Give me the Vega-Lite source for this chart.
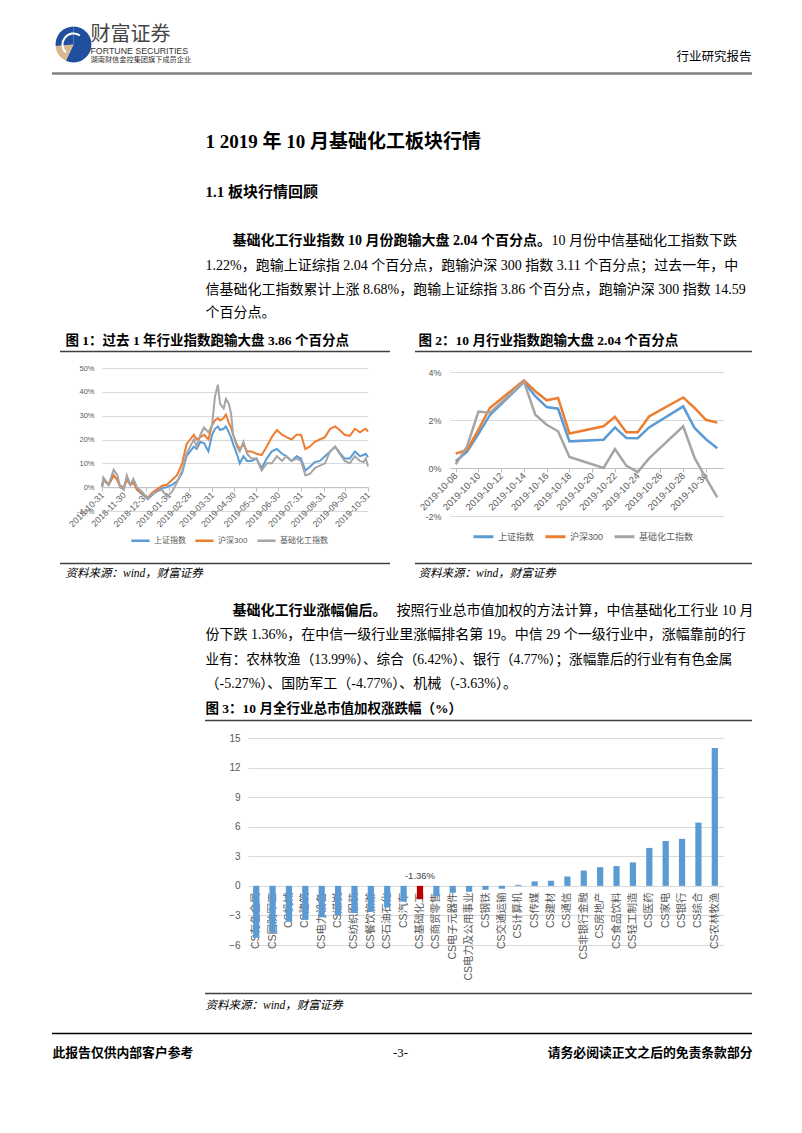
{
"$schema": "https://vega.github.io/schema/vega-lite/v6.json",
"background": "white",
"padding": 0,
"spacing": 0,
"bounds": "flush",
"resolve": {"scale": {"color": "independent"}, "legend": {"color": "independent"}},
"config": {"view": {"stroke": null}, "concat": {"spacing": 0}},
"datasets": {
"c1": [
{"d":"2018-10-31","上证指数":0,"沪深300":0,"基础化工指数":0},
{"d":"2018-11-02","上证指数":3,"沪深300":3.5,"基础化工指数":4},
{"d":"2018-11-09","上证指数":1,"沪深300":1,"基础化工指数":1},
{"d":"2018-11-16","上证指数":5,"沪深300":5,"基础化工指数":7.3},
{"d":"2018-11-21","上证指数":3,"沪深300":3,"基础化工指数":5},
{"d":"2018-11-25","上证指数":0.5,"沪深300":0,"基础化工指数":0},
{"d":"2018-11-30","上证指数":0,"沪深300":0,"基础化工指数":-1},
{"d":"2018-12-04","上证指数":3.5,"沪深300":3,"基础化工指数":5},
{"d":"2018-12-09","上证指数":1,"沪深300":1,"基础化工指数":1},
{"d":"2018-12-13","上证指数":2,"沪深300":2,"基础化工指数":3.5},
{"d":"2018-12-18","上证指数":-1,"沪深300":-1,"基础化工指数":0},
{"d":"2018-12-25","上证指数":-3,"沪深300":-2.5,"基础化工指数":-2},
{"d":"2019-01-02","上证指数":-5,"沪深300":-4.5,"基础化工指数":-5},
{"d":"2019-01-07","上证指数":-3.5,"沪深300":-2.5,"基础化工指数":-3},
{"d":"2019-01-14","上证指数":-1.5,"沪深300":-1,"基础化工指数":-2},
{"d":"2019-01-21","上证指数":-0.5,"沪深300":0.5,"基础化工指数":-1},
{"d":"2019-01-28","上证指数":0,"沪深300":1,"基础化工指数":-4},
{"d":"2019-02-04","上证指数":1,"沪深300":3,"基础化工指数":-2},
{"d":"2019-02-11","上证指数":2.5,"沪深300":5,"基础化工指数":2},
{"d":"2019-02-18","上证指数":6,"沪深300":10,"基础化工指数":7},
{"d":"2019-02-24","上证指数":13,"沪深300":18,"基础化工指数":14},
{"d":"2019-03-01","上证指数":15,"沪深300":20,"基础化工指数":17},
{"d":"2019-03-06","上证指数":17,"沪深300":22,"基础化工指数":20},
{"d":"2019-03-10","上证指数":16,"沪深300":20,"基础化工指数":17},
{"d":"2019-03-15","上证指数":19,"沪深300":21,"基础化工指数":22},
{"d":"2019-03-20","上证指数":18.5,"沪深300":22,"基础化工指数":25},
{"d":"2019-03-26","上证指数":15,"沪深300":20,"基础化工指数":23},
{"d":"2019-03-31","上证指数":22,"沪深300":26,"基础化工指数":26},
{"d":"2019-04-04","上证指数":24.5,"沪深300":28,"基础化工指数":38},
{"d":"2019-04-08","上证指数":25.5,"沪深300":29,"基础化工指数":43},
{"d":"2019-04-11","上证指数":24,"沪深300":28,"基础化工指数":35},
{"d":"2019-04-16","上证指数":24.5,"沪深300":29,"基础化工指数":33},
{"d":"2019-04-19","上证指数":25.5,"沪深300":30.5,"基础化工指数":37},
{"d":"2019-04-23","上证指数":23,"沪深300":27,"基础化工指数":35},
{"d":"2019-04-26","上证指数":21,"沪深300":25,"基础化工指数":31},
{"d":"2019-04-29","上证指数":18,"沪深300":22,"基础化工指数":22},
{"d":"2019-05-04","上证指数":14,"沪深300":18,"基础化工指数":17},
{"d":"2019-05-08","上证指数":10,"沪深300":16,"基础化工指数":15},
{"d":"2019-05-13","上证指数":13,"沪深300":18,"基础化工指数":19},
{"d":"2019-05-18","上证指数":11,"沪深300":15,"基础化工指数":14},
{"d":"2019-05-24","上证指数":11,"沪深300":15,"基础化工指数":12},
{"d":"2019-05-31","上证指数":12,"沪深300":14,"基础化工指数":12},
{"d":"2019-06-07","上证指数":8,"沪深300":13.5,"基础化工指数":7},
{"d":"2019-06-14","上证指数":12,"沪深300":17,"基础化工指数":10},
{"d":"2019-06-21","上证指数":15,"沪深300":21,"基础化工指数":10},
{"d":"2019-06-28","上证指数":16,"沪深300":24,"基础化工指数":13},
{"d":"2019-07-05","上证指数":14,"沪深300":22,"基础化工指数":11},
{"d":"2019-07-11","上证指数":13,"沪深300":21,"基础化工指数":13},
{"d":"2019-07-18","上证指数":11,"沪深300":20,"基础化工指数":11},
{"d":"2019-07-25","上证指数":13,"沪深300":22,"基础化工指数":12},
{"d":"2019-07-31","上证指数":12,"沪深300":22,"基础化工指数":11},
{"d":"2019-08-06","上证指数":7,"沪深300":16,"基础化工指数":5},
{"d":"2019-08-12","上证指数":8.5,"沪深300":17,"基础化工指数":5.5},
{"d":"2019-08-19","上证指数":10.5,"沪深300":19,"基础化工指数":8},
{"d":"2019-08-26","上证指数":11,"沪深300":20,"基础化工指数":9},
{"d":"2019-09-02","上证指数":13,"沪深300":21,"基础化工指数":10},
{"d":"2019-09-09","上证指数":15,"沪深300":24.5,"基础化工指数":15},
{"d":"2019-09-16","上证指数":17,"沪深300":25.5,"基础化工指数":17},
{"d":"2019-09-22","上证指数":14.5,"沪深300":24,"基础化工指数":14},
{"d":"2019-09-29","上证指数":12,"沪深300":22,"基础化工指数":11},
{"d":"2019-10-06","上证指数":12,"沪深300":21.5,"基础化工指数":10},
{"d":"2019-10-13","上证指数":15,"沪深300":24.5,"基础化工指数":13},
{"d":"2019-10-20","上证指数":13,"沪深300":23,"基础化工指数":11},
{"d":"2019-10-25","上证指数":13.5,"沪深300":24,"基础化工指数":10.5},
{"d":"2019-10-28","上证指数":14,"沪深300":24.5,"基础化工指数":12},
{"d":"2019-10-31","上证指数":12.54,"沪深300":23.27,"基础化工指数":8.68}
],
"c2": [
{"d":"2019-10-08","上证指数":0.28,"沪深300":0.6,"基础化工指数":0.15},
{"d":"2019-10-09","上证指数":0.68,"沪深300":0.75,"基础化工指数":0.9},
{"d":"2019-10-10","上证指数":1.42,"沪深300":1.6,"基础化工指数":2.35},
{"d":"2019-10-11","上证指数":2.2,"沪深300":2.5,"基础化工指数":2.3},
{"d":"2019-10-14","上证指数":3.58,"沪深300":3.65,"基础化工指数":3.6},
{"d":"2019-10-15","上证指数":2.99,"沪深300":3.2,"基础化工指数":2.22},
{"d":"2019-10-16","上证指数":2.54,"沪深300":2.82,"基础化工指数":1.8},
{"d":"2019-10-17","上证指数":2.47,"沪深300":2.92,"基础化工指数":1.53},
{"d":"2019-10-18","上证指数":1.11,"沪深300":1.44,"基础化工指数":0.46},
{"d":"2019-10-21","上证指数":1.18,"沪深300":1.74,"基础化工指数":0.0},
{"d":"2019-10-22","上证指数":1.69,"沪深300":2.13,"基础化工指数":0.79},
{"d":"2019-10-23","上证指数":1.25,"沪深300":1.49,"基础化工指数":0.1},
{"d":"2019-10-24","上证指数":1.24,"沪深300":1.49,"基础化工指数":-0.17},
{"d":"2019-10-25","上证指数":1.69,"沪深300":2.15,"基础化工指数":0.4},
{"d":"2019-10-28","上证指数":2.57,"沪深300":2.94,"基础化工指数":1.74},
{"d":"2019-10-29","上证指数":1.67,"沪深300":2.5,"基础化工指数":0.42},
{"d":"2019-10-30","上证指数":1.2,"沪深300":2.01,"基础化工指数":-0.42},
{"d":"2019-10-31","上证指数":0.82,"沪深300":1.89,"基础化工指数":-1.22}
],
"c3": [
{"n":"CS有色金属","v":-5.27},{"n":"CS国防军工","v":-4.77},{"n":"CS机械","v":-3.63},{"n":"CS建筑","v":-3.45},{"n":"CS电力设备","v":-3.2},{"n":"CS煤炭","v":-3.0},{"n":"CS纺织服装","v":-2.75},{"n":"CS餐饮旅游","v":-2.6},{"n":"CS石油石化","v":-2.2},{"n":"CS汽车","v":-1.6},{"n":"CS基础化工","v":-1.36,"lab":"-1.36%"},{"n":"CS商贸零售","v":-1.05},{"n":"CS电子元器件","v":-0.7},{"n":"CS电力及公用事业","v":-0.6},{"n":"CS钢铁","v":-0.4},{"n":"CS交通运输","v":-0.3},{"n":"CS计算机","v":0.1},{"n":"CS传媒","v":0.45},{"n":"CS建材","v":0.52},{"n":"CS通信","v":0.95},{"n":"CS非银行金融","v":1.55},{"n":"CS房地产","v":1.9},{"n":"CS食品饮料","v":2.0},{"n":"CS轻工制造","v":2.38},{"n":"CS医药","v":3.85},{"n":"CS家电","v":4.55},{"n":"CS银行","v":4.77},{"n":"CS综合","v":6.42},{"n":"CS农林牧渔","v":13.99}
]
},
"vconcat": [
{"width":1,"height":34,"data":{"values":[]},"mark":"point"},
{"hconcat":[
 {"width":90,"height":1,"data":{"values":[]},"mark":"point"},
 {"width":1,"height":1,"data":{"values":[{"t":"财富证券"}]},"mark":{"type":"text","align":"left","baseline":"middle","font":"Noto Sans CJK SC","fontSize":20,"color":"#454545"},"encoding":{"text":{"field":"t"}}}
],"spacing":0,"bounds":"flush"},
{"width":1,"height":10,"data":{"values":[]},"mark":"point"},
{"hconcat":[
 {"width":73,"height":1,"data":{"values":[]},"mark":"point"},
 {"width":1,"height":1,"layer":[
   {"data":{"values":[{"p":"a","w":205},{"p":"b","w":60},{"p":"c","w":95}]},"mark":{"type":"arc","outerRadius":18},"encoding":{"theta":{"field":"w","type":"quantitative"},"color":{"field":"p","type":"nominal","scale":{"domain":["a","b","c"],"range":["#1f4f9d","#d8b68e","#1f4f9d"]},"legend":null}}},
   {"data":{"values":[{"p":"swoosh"}]},"mark":{"type":"arc","innerRadius":10,"outerRadius":12,"theta":3.9,"theta2":6.9,"color":"#ffffff"},"encoding":{}}
 ]}
],"spacing":0,"bounds":"flush"},
{"width":1,"height":6,"data":{"values":[]},"mark":"point"},
{"hconcat":[
 {"width":90,"height":1,"data":{"values":[]},"mark":"point"},
 {"width":1,"height":1,"data":{"values":[{"t":"FORTUNE SECURITIES"}]},"mark":{"type":"text","align":"left","baseline":"middle","font":"Liberation Sans","fontSize":8.8,"color":"#333333"},"encoding":{"text":{"field":"t"}}}
],"spacing":0,"bounds":"flush"},
{"width":1,"height":6,"data":{"values":[]},"mark":"point"},
{"hconcat":[
 {"width":751,"height":1,"data":{"values":[]},"mark":"point"},
 {"width":1,"height":1,"data":{"values":[{"t":"行业研究报告"}]},"mark":{"type":"text","align":"right","baseline":"middle","font":"Liberation Serif, Noto Sans CJK SC","fontSize":12.5,"color":"#000000"},"encoding":{"text":{"field":"t"}}}
],"spacing":0,"bounds":"flush"},
{"width":1,"height":3,"data":{"values":[]},"mark":"point"},
{"hconcat":[
 {"width":90,"height":1,"data":{"values":[]},"mark":"point"},
 {"width":1,"height":1,"data":{"values":[{"t":"湖南财信金控集团旗下成员企业"}]},"mark":{"type":"text","align":"left","baseline":"middle","font":"Noto Sans CJK SC","fontSize":7.2,"color":"#333333"},"encoding":{"text":{"field":"t"}}}
],"spacing":0,"bounds":"flush"},
{"width":1,"height":14,"data":{"values":[]},"mark":"point"},
{"hconcat":[
 {"width":52,"height":1,"data":{"values":[]},"mark":"point"},
 {"width":700,"height":1,"data":{"values":[{"k":0}]},"mark":{"type":"rule","color":"#808080","strokeWidth":2.5},"encoding":{"y":{"field":"k","type":"quantitative","axis":null}}}
],"spacing":0,"bounds":"flush"},
{"width":1,"height":68,"data":{"values":[]},"mark":"point"},
{"hconcat":[
 {"width":205,"height":1,"data":{"values":[]},"mark":"point"},
 {"width":1,"height":1,"data":{"values":[{"t":"1 2019 年 10 月基础化工板块行情"}]},"mark":{"type":"text","align":"left","baseline":"middle","font":"Liberation Serif, Noto Sans CJK SC","fontSize":19,"fontWeight":"bold","color":"#000000"},"encoding":{"text":{"field":"t"}}}
],"spacing":0,"bounds":"flush"},
{"width":1,"height":50,"data":{"values":[]},"mark":"point"},
{"hconcat":[
 {"width":205,"height":1,"data":{"values":[]},"mark":"point"},
 {"width":1,"height":1,"data":{"values":[{"t":"1.1 板块行情回顾"}]},"mark":{"type":"text","align":"left","baseline":"middle","font":"Liberation Serif, Noto Sans CJK SC","fontSize":15,"fontWeight":"bold","color":"#000000"},"encoding":{"text":{"field":"t"}}}
],"spacing":0,"bounds":"flush"},
{"width":1,"height":49,"data":{"values":[]},"mark":"point"},
{"hconcat":[
 {"width":232,"height":1,"data":{"values":[]},"mark":"point"},
 {"width":1,"height":1,"data":{"values":[{"t":"基础化工行业指数 10 月份跑输大盘 2.04 个百分点。"}]},"mark":{"type":"text","align":"left","baseline":"middle","font":"Liberation Serif, Noto Sans CJK SC","fontSize":14,"fontWeight":"bold","color":"#000000"},"encoding":{"text":{"field":"t"}}},
 {"width":318,"height":1,"data":{"values":[]},"mark":"point"},
 {"width":1,"height":1,"data":{"values":[{"t":"10 月份中信基础化工指数下跌"}]},"mark":{"type":"text","align":"left","baseline":"middle","font":"Liberation Serif, Noto Sans CJK SC","fontSize":14,"color":"#000000"},"encoding":{"text":{"field":"t"}}}
],"spacing":0,"bounds":"flush"},
{"width":1,"height":25,"data":{"values":[]},"mark":"point"},
{"hconcat":[
 {"width":205,"height":1,"data":{"values":[]},"mark":"point"},
 {"width":1,"height":1,"data":{"values":[{"t":"1.22%，跑输上证综指 2.04 个百分点，跑输沪深 300 指数 3.11 个百分点；过去一年，中"}]},"mark":{"type":"text","align":"left","baseline":"middle","font":"Liberation Serif, Noto Sans CJK SC","fontSize":14,"color":"#000000"},"encoding":{"text":{"field":"t"}}}
],"spacing":0,"bounds":"flush"},
{"width":1,"height":24,"data":{"values":[]},"mark":"point"},
{"hconcat":[
 {"width":205,"height":1,"data":{"values":[]},"mark":"point"},
 {"width":1,"height":1,"data":{"values":[{"t":"信基础化工指数累计上涨 8.68%，跑输上证综指 3.86 个百分点，跑输沪深 300 指数 14.59"}]},"mark":{"type":"text","align":"left","baseline":"middle","font":"Liberation Serif, Noto Sans CJK SC","fontSize":14,"color":"#000000"},"encoding":{"text":{"field":"t"}}}
],"spacing":0,"bounds":"flush"},
{"width":1,"height":23,"data":{"values":[]},"mark":"point"},
{"hconcat":[
 {"width":205,"height":1,"data":{"values":[]},"mark":"point"},
 {"width":1,"height":1,"data":{"values":[{"t":"个百分点。"}]},"mark":{"type":"text","align":"left","baseline":"middle","font":"Liberation Serif, Noto Sans CJK SC","fontSize":14,"color":"#000000"},"encoding":{"text":{"field":"t"}}}
],"spacing":0,"bounds":"flush"},
{"width":1,"height":28,"data":{"values":[]},"mark":"point"},
{"hconcat":[
 {"width":65,"height":1,"data":{"values":[]},"mark":"point"},
 {"width":1,"height":1,"data":{"values":[{"t":"图 1：过去 1 年行业指数跑输大盘 3.86 个百分点"}]},"mark":{"type":"text","align":"left","baseline":"middle","font":"Liberation Serif, Noto Sans CJK SC","fontSize":13.5,"fontWeight":"bold","color":"#000000"},"encoding":{"text":{"field":"t"}}},
 {"width":352,"height":1,"data":{"values":[]},"mark":"point"},
 {"width":1,"height":1,"data":{"values":[{"t":"图 2：10 月行业指数跑输大盘 2.04 个百分点"}]},"mark":{"type":"text","align":"left","baseline":"middle","font":"Liberation Serif, Noto Sans CJK SC","fontSize":13.5,"fontWeight":"bold","color":"#000000"},"encoding":{"text":{"field":"t"}}}
],"spacing":0,"bounds":"flush"},
{"width":1,"height":11,"data":{"values":[]},"mark":"point"},
{"hconcat":[
 {"width":60,"height":1,"data":{"values":[]},"mark":"point"},
 {"width":330,"height":1,"data":{"values":[{"k":0}]},"mark":{"type":"rule","color":"#404040","strokeWidth":1.5},"encoding":{"y":{"field":"k","type":"quantitative","axis":null}}},
 {"width":25,"height":1,"data":{"values":[]},"mark":"point"},
 {"width":337,"height":1,"data":{"values":[{"k":0}]},"mark":{"type":"rule","color":"#404040","strokeWidth":1.5},"encoding":{"y":{"field":"k","type":"quantitative","axis":null}}}
],"spacing":0,"bounds":"flush"},
{"width":1,"height":17,"data":{"values":[]},"mark":"point"},
{"hconcat":[
 {"width":102,"height":1,"data":{"values":[]},"mark":"point"},
 {"width":266,"height":143,"data":{"name":"c1"},
  "transform":[{"fold":["上证指数","沪深300","基础化工指数"],"as":["s","v"]}],
  "mark":{"type":"line","strokeWidth":2},
  "encoding":{
   "x":{"field":"d","type":"temporal","scale":{"type":"utc","domain":[{"year":2018,"month":10,"date":31,"utc":true},{"year":2019,"month":10,"date":31,"utc":true}]},
    "axis":{"title":null,"values":[{"year":2018,"month":10,"date":31,"utc":true},{"year":2018,"month":11,"date":30,"utc":true},{"year":2018,"month":12,"date":31,"utc":true},{"year":2019,"month":1,"date":31,"utc":true},{"year":2019,"month":2,"date":28,"utc":true},{"year":2019,"month":3,"date":31,"utc":true},{"year":2019,"month":4,"date":30,"utc":true},{"year":2019,"month":5,"date":31,"utc":true},{"year":2019,"month":6,"date":30,"utc":true},{"year":2019,"month":7,"date":31,"utc":true},{"year":2019,"month":8,"date":31,"utc":true},{"year":2019,"month":9,"date":30,"utc":true},{"year":2019,"month":10,"date":31,"utc":true}],
    "format":"%Y-%m-%d","labelAngle":-45,"labelAlign":"right","labelBaseline":"middle","labelFontSize":8.8,"labelColor":"#595959","labelFont":"Liberation Sans, Noto Sans CJK SC","offset":-23.8,"grid":false,"domainColor":"#bfbfbf","tickColor":"#bfbfbf","tickSize":4,"labelPadding":2,"labelOverlap":false,"labelFlush":false}},
   "y":{"field":"v","type":"quantitative","scale":{"domain":[-10,50],"nice":false,"zero":false},
    "axis":{"title":null,"values":[-10,0,10,20,30,40,50],"labelExpr":"datum.value + '%'","grid":true,"gridColor":"#d9d9d9","domain":false,"ticks":false,"labelPadding":8,"labelFontSize":7.5,"labelColor":"#595959","labelFont":"Liberation Sans, Noto Sans CJK SC"}},
   "color":{"field":"s","type":"nominal","scale":{"domain":["上证指数","沪深300","基础化工指数"],"range":["#5b9bd5","#ed7d31","#a5a5a5"]},
    "legend":{"orient":"none","legendX":28,"legendY":162,"direction":"horizontal","title":null,"symbolType":"stroke","symbolStrokeWidth":2.5,"symbolSize":330,"labelFontSize":8,"labelColor":"#595959","labelFont":"Liberation Sans, Noto Sans CJK SC","columnPadding":4,"labelOffset":3,"padding":0}}
  }
 },
 {"width":82,"height":1,"data":{"values":[]},"mark":"point"},
 {"width":273,"height":148,"data":{"name":"c2"},
  "transform":[{"fold":["上证指数","沪深300","基础化工指数"],"as":["s","v"]}],
  "mark":{"type":"line","strokeWidth":2.5},
  "encoding":{
   "x":{"field":"d","type":"temporal","scale":{"type":"utc","domain":[{"year":2019,"month":10,"date":7,"hours":12,"utc":true},{"year":2019,"month":10,"date":31,"hours":12,"utc":true}]},
    "axis":{"title":null,"values":[{"year":2019,"month":10,"date":8,"utc":true},{"year":2019,"month":10,"date":10,"utc":true},{"year":2019,"month":10,"date":12,"utc":true},{"year":2019,"month":10,"date":14,"utc":true},{"year":2019,"month":10,"date":16,"utc":true},{"year":2019,"month":10,"date":18,"utc":true},{"year":2019,"month":10,"date":20,"utc":true},{"year":2019,"month":10,"date":22,"utc":true},{"year":2019,"month":10,"date":24,"utc":true},{"year":2019,"month":10,"date":26,"utc":true},{"year":2019,"month":10,"date":28,"utc":true},{"year":2019,"month":10,"date":30,"utc":true}],
    "format":"%Y-%m-%d","labelAngle":-45,"labelAlign":"right","labelBaseline":"middle","labelFontSize":9.5,"labelColor":"#595959","labelFont":"Liberation Sans, Noto Sans CJK SC","offset":-48,"grid":false,"domainColor":"#bfbfbf","tickColor":"#bfbfbf","tickSize":4,"labelPadding":2,"labelOverlap":false,"labelFlush":false}},
   "y":{"field":"v","type":"quantitative","scale":{"domain":[-2,4.1667],"nice":false,"zero":false},
    "axis":{"title":null,"values":[-2,0,2,4],"labelExpr":"datum.value + '%'","grid":true,"gridColor":"#d9d9d9","domain":false,"ticks":false,"labelPadding":9,"labelFontSize":9,"labelColor":"#595959","labelFont":"Liberation Sans, Noto Sans CJK SC"}},
   "color":{"field":"s","type":"nominal","scale":{"domain":["上证指数","沪深300","基础化工指数"],"range":["#5b9bd5","#ed7d31","#a5a5a5"]},
    "legend":{"orient":"none","legendX":22,"legendY":157,"direction":"horizontal","title":null,"symbolType":"stroke","symbolStrokeWidth":3,"symbolSize":400,"labelFontSize":9,"labelColor":"#595959","labelFont":"Liberation Sans, Noto Sans CJK SC","columnPadding":4,"labelOffset":3,"padding":0}}
  }
 }
],"spacing":0,"bounds":"flush","resolve":{"scale":{"color":"independent"},"legend":{"color":"independent"}}},
{"width":1,"height":195,"data":{"values":[]},"mark":"point"},
{"hconcat":[
 {"width":60,"height":1,"data":{"values":[]},"mark":"point"},
 {"width":330,"height":1,"data":{"values":[{"k":0}]},"mark":{"type":"rule","color":"#404040","strokeWidth":1.5},"encoding":{"y":{"field":"k","type":"quantitative","axis":null}}},
 {"width":25,"height":1,"data":{"values":[]},"mark":"point"},
 {"width":337,"height":1,"data":{"values":[{"k":0}]},"mark":{"type":"rule","color":"#404040","strokeWidth":1.5},"encoding":{"y":{"field":"k","type":"quantitative","axis":null}}}
],"spacing":0,"bounds":"flush"},
{"width":1,"height":10,"data":{"values":[]},"mark":"point"},
{"hconcat":[
 {"width":65,"height":1,"data":{"values":[]},"mark":"point"},
 {"width":1,"height":1,"data":{"values":[{"t":"资料来源：wind，财富证券"}]},"mark":{"type":"text","align":"left","baseline":"middle","font":"Liberation Serif, Noto Sans CJK SC","fontSize":11.5,"fontStyle":"italic","color":"#000000"},"encoding":{"text":{"field":"t"}}},
 {"width":352,"height":1,"data":{"values":[]},"mark":"point"},
 {"width":1,"height":1,"data":{"values":[{"t":"资料来源：wind，财富证券"}]},"mark":{"type":"text","align":"left","baseline":"middle","font":"Liberation Serif, Noto Sans CJK SC","fontSize":11.5,"fontStyle":"italic","color":"#000000"},"encoding":{"text":{"field":"t"}}}
],"spacing":0,"bounds":"flush"},
{"width":1,"height":37,"data":{"values":[]},"mark":"point"},
{"hconcat":[
 {"width":232,"height":1,"data":{"values":[]},"mark":"point"},
 {"width":1,"height":1,"data":{"values":[{"t":"基础化工行业涨幅偏后。"}]},"mark":{"type":"text","align":"left","baseline":"middle","font":"Liberation Serif, Noto Sans CJK SC","fontSize":14,"fontWeight":"bold","color":"#000000"},"encoding":{"text":{"field":"t"}}},
 {"width":163,"height":1,"data":{"values":[]},"mark":"point"},
 {"width":1,"height":1,"data":{"values":[{"t":"按照行业总市值加权的方法计算，中信基础化工行业 10 月"}]},"mark":{"type":"text","align":"left","baseline":"middle","font":"Liberation Serif, Noto Sans CJK SC","fontSize":14,"color":"#000000"},"encoding":{"text":{"field":"t"}}}
],"spacing":0,"bounds":"flush"},
{"width":1,"height":24,"data":{"values":[]},"mark":"point"},
{"hconcat":[
 {"width":205,"height":1,"data":{"values":[]},"mark":"point"},
 {"width":1,"height":1,"data":{"values":[{"t":"份下跌 1.36%，在中信一级行业里涨幅排名第 19。中信 29 个一级行业中，涨幅靠前的行"}]},"mark":{"type":"text","align":"left","baseline":"middle","font":"Liberation Serif, Noto Sans CJK SC","fontSize":14,"color":"#000000"},"encoding":{"text":{"field":"t"}}}
],"spacing":0,"bounds":"flush"},
{"width":1,"height":25,"data":{"values":[]},"mark":"point"},
{"hconcat":[
 {"width":205,"height":1,"data":{"values":[]},"mark":"point"},
 {"width":1,"height":1,"data":{"values":[{"t":"业有：农林牧渔（13.99%）、综合（6.42%）、银行（4.77%）；涨幅靠后的行业有有色金属"}]},"mark":{"type":"text","align":"left","baseline":"middle","font":"Liberation Serif, Noto Sans CJK SC","fontSize":13.6,"color":"#000000"},"encoding":{"text":{"field":"t"}}}
],"spacing":0,"bounds":"flush"},
{"width":1,"height":24,"data":{"values":[]},"mark":"point"},
{"hconcat":[
 {"width":205,"height":1,"data":{"values":[]},"mark":"point"},
 {"width":1,"height":1,"data":{"values":[{"t":"（-5.27%）、国防军工（-4.77%）、机械（-3.63%）。"}]},"mark":{"type":"text","align":"left","baseline":"middle","font":"Liberation Serif, Noto Sans CJK SC","fontSize":14,"color":"#000000"},"encoding":{"text":{"field":"t"}}}
],"spacing":0,"bounds":"flush"},
{"width":1,"height":25,"data":{"values":[]},"mark":"point"},
{"hconcat":[
 {"width":205,"height":1,"data":{"values":[]},"mark":"point"},
 {"width":1,"height":1,"data":{"values":[{"t":"图 3：10 月全行业总市值加权涨跌幅（%）"}]},"mark":{"type":"text","align":"left","baseline":"middle","font":"Liberation Serif, Noto Sans CJK SC","fontSize":13.5,"fontWeight":"bold","color":"#000000"},"encoding":{"text":{"field":"t"}}}
],"spacing":0,"bounds":"flush"},
{"width":1,"height":12,"data":{"values":[]},"mark":"point"},
{"hconcat":[
 {"width":205,"height":1,"data":{"values":[]},"mark":"point"},
 {"width":547,"height":1,"data":{"values":[{"k":0}]},"mark":{"type":"rule","color":"#404040","strokeWidth":1.5},"encoding":{"y":{"field":"k","type":"quantitative","axis":null}}}
],"spacing":0,"bounds":"flush"},
{"width":1,"height":18,"data":{"values":[]},"mark":"point"},
{"hconcat":[
 {"width":248,"height":1,"data":{"values":[]},"mark":"point"},
 {"width":475,"height":207,"data":{"name":"c3"},
  "encoding":{
   "x":{"field":"n","type":"nominal","scale":{"domain":["CS有色金属","CS国防军工","CS机械","CS建筑","CS电力设备","CS煤炭","CS纺织服装","CS餐饮旅游","CS石油石化","CS汽车","CS基础化工","CS商贸零售","CS电子元器件","CS电力及公用事业","CS钢铁","CS交通运输","CS计算机","CS传媒","CS建材","CS通信","CS非银行金融","CS房地产","CS食品饮料","CS轻工制造","CS医药","CS家电","CS银行","CS综合","CS农林牧渔"],"paddingInner":0.62,"paddingOuter":0.31},
    "axis":{"title":null,"labelAngle":-90,"labelAlign":"right","labelBaseline":"middle","labelFontSize":10.5,"labelColor":"#595959","labelFont":"Liberation Sans, Noto Sans CJK SC","ticks":false,"domain":false,"offset":-59.1,"labelPadding":6,"labelOverlap":false,"labelLimit":0}},
   "y":{"field":"v","type":"quantitative","scale":{"domain":[-6,15],"nice":false,"zero":false},
    "axis":{"title":null,"values":[-6,-3,0,3,6,9,12,15],"grid":true,"gridColor":"#d9d9d9","domain":false,"ticks":false,"labelPadding":8,"labelFontSize":10,"labelColor":"#595959","labelFont":"Liberation Sans, Noto Sans CJK SC"}}
  },
  "layer":[
   {"mark":{"type":"bar"},"encoding":{"color":{"condition":{"test":"datum.n === 'CS基础化工'","value":"#c00000"},"value":"#5b9bd5"}}},
   {"transform":[{"filter":"isValid(datum.lab)"}],"mark":{"type":"text","dy":-10,"fontSize":9.5,"color":"#404040","font":"Liberation Sans, Noto Sans CJK SC"},"encoding":{"y":{"datum":0},"text":{"field":"lab"}}}
  ]
 }
],"spacing":0,"bounds":"flush"},
{"width":1,"height":255,"data":{"values":[]},"mark":"point"},
{"hconcat":[
 {"width":205,"height":1,"data":{"values":[]},"mark":"point"},
 {"width":547,"height":1,"data":{"values":[{"k":0}]},"mark":{"type":"rule","color":"#404040","strokeWidth":1.5},"encoding":{"y":{"field":"k","type":"quantitative","axis":null}}}
],"spacing":0,"bounds":"flush"},
{"width":1,"height":12,"data":{"values":[]},"mark":"point"},
{"hconcat":[
 {"width":205,"height":1,"data":{"values":[]},"mark":"point"},
 {"width":1,"height":1,"data":{"values":[{"t":"资料来源：wind，财富证券"}]},"mark":{"type":"text","align":"left","baseline":"middle","font":"Liberation Serif, Noto Sans CJK SC","fontSize":11.5,"fontStyle":"italic","color":"#000000"},"encoding":{"text":{"field":"t"}}}
],"spacing":0,"bounds":"flush"},
{"width":1,"height":28,"data":{"values":[]},"mark":"point"},
{"hconcat":[
 {"width":52,"height":1,"data":{"values":[]},"mark":"point"},
 {"width":700,"height":1,"data":{"values":[{"k":0}]},"mark":{"type":"rule","color":"#000000","strokeWidth":1.5},"encoding":{"y":{"field":"k","type":"quantitative","axis":null}}}
],"spacing":0,"bounds":"flush"},
{"width":1,"height":19,"data":{"values":[]},"mark":"point"},
{"hconcat":[
 {"width":52,"height":1,"data":{"values":[]},"mark":"point"},
 {"width":1,"height":1,"data":{"values":[{"t":"此报告仅供内部客户参考"}]},"mark":{"type":"text","align":"left","baseline":"middle","font":"Liberation Serif, Noto Sans CJK SC","fontSize":12.8,"fontWeight":"bold","color":"#000000"},"encoding":{"text":{"field":"t"}}},
 {"width":347,"height":1,"data":{"values":[]},"mark":"point"},
 {"width":1,"height":1,"data":{"values":[{"t":"-3-"}]},"mark":{"type":"text","align":"center","baseline":"middle","font":"Liberation Serif, Noto Sans CJK SC","fontSize":12.8,"color":"#000000"},"encoding":{"text":{"field":"t"}}},
 {"width":351,"height":1,"data":{"values":[]},"mark":"point"},
 {"width":1,"height":1,"data":{"values":[{"t":"请务必阅读正文之后的免责条款部分"}]},"mark":{"type":"text","align":"right","baseline":"middle","font":"Liberation Serif, Noto Sans CJK SC","fontSize":12.8,"fontWeight":"bold","color":"#000000"},"encoding":{"text":{"field":"t"}}}
],"spacing":0,"bounds":"flush"},
{"width":1,"height":20,"data":{"values":[]},"mark":"point"}
]
}
